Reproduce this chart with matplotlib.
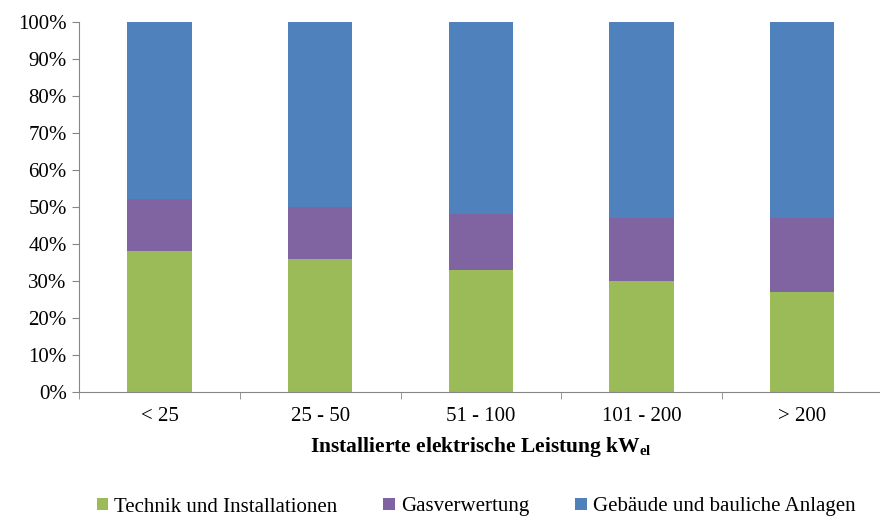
import numpy as np
import matplotlib.pyplot as plt
from matplotlib.ticker import PercentFormatter

plt.rcParams['font.family'] = ['Liberation Serif', 'DejaVu Serif']
plt.rcParams['mathtext.fontset'] = 'custom'
plt.rcParams['mathtext.rm'] = 'Liberation Serif'
plt.rcParams['mathtext.bf'] = 'Liberation Serif:bold'

# Kostenanteile je Leistungsklasse (in %)
klassen = ['< 25', '25 - 50', '51 - 100', '101 - 200', '> 200']
technik = [38, 36, 33, 30, 27]
gas = [14, 14, 15, 17, 20]
gebaeude = [48, 50, 52, 53, 53]

farben = ['#9BBB59', '#8064A2', '#4F81BD']
namen = ['Technik und Installationen', 'Gasverwertung', 'Gebäude und bauliche Anlagen']

fig = plt.figure(figsize=(8.8, 5.19), dpi=100)
ax = fig.add_axes([0.09, 0.245, 0.913, 0.713])

x = np.arange(len(klassen))
breite = 0.4
unten = np.zeros(len(klassen))
for werte, farbe, name in zip([technik, gas, gebaeude], farben, namen):
    ax.bar(x, werte, breite, bottom=unten, color=farbe, label=name, zorder=2)
    unten += np.array(werte)

ax.set_xlim(-0.5, len(klassen) - 0.5)
ax.set_ylim(0, 100)
ax.set_yticks(np.arange(0, 101, 10))
ax.yaxis.set_major_formatter(PercentFormatter(decimals=0))

# Kategorien in der Mitte, Striche an den Grenzen
ax.set_xticks(x)
ax.set_xticklabels(klassen)
ax.set_xticks(np.arange(-0.5, len(klassen)), minor=True)
ax.tick_params(axis='x', which='major', length=0, pad=11, labelsize=15)
ax.tick_params(axis='x', which='minor', length=5, direction='out', color='#868686')
ax.tick_params(axis='y', length=5, direction='out', color='#868686', labelsize=15, pad=4)

for s in ['top', 'right']:
    ax.spines[s].set_visible(False)
for s in ['left', 'bottom']:
    ax.spines[s].set_color('#868686')

ax.set_xlabel(r'Installierte elektrische Leistung kW$_\mathbf{el}$',
              fontsize=15.5, fontweight='bold', va='center')
ax.xaxis.set_label_coords(0.5, -0.148)

fig.legend(loc='center', bbox_to_anchor=(0.541, 1 - 507 / 519), ncol=3, frameon=False,
           fontsize=15, handlelength=0.55, handleheight=0.55, handletextpad=0.3,
           columnspacing=2.2)

fig.savefig('out.png', dpi=100)
